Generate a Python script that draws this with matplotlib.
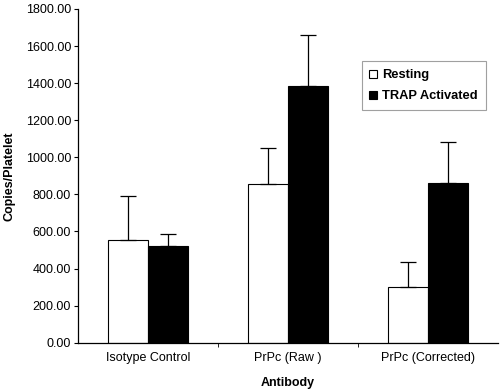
import numpy as np
import matplotlib.pyplot as plt

plt.rcParams['font.family'] = ['Liberation Sans', 'DejaVu Sans']

categories = ["Isotype Control", "PrPc (Raw )", "PrPc (Corrected)"]
resting = [553, 857, 298]
resting_err = [238, 191, 139]
trap = [521, 1384, 862]
trap_err = [65, 278, 221]
yticks = np.arange(0, 1801, 200)

fig = plt.figure(figsize=(5, 3.89), dpi=100)
ax = fig.add_axes([0.156, 0.119, 0.84, 0.858])

x = np.arange(len(categories))
w = 0.286
ax.bar(x - w / 2, resting, w, color="white", edgecolor="black", linewidth=0.8,
       yerr=[np.zeros(3), resting_err], capsize=6,
       error_kw=dict(elinewidth=0.9, capthick=0.9, ecolor="black"), label="Resting")
ax.bar(x + w / 2, trap, w, color="black", edgecolor="black", linewidth=0.8,
       yerr=[np.zeros(3), trap_err], capsize=6,
       error_kw=dict(elinewidth=0.9, capthick=0.9, ecolor="black"), label="TRAP Activated")

ax.set_xlim(-0.5, 2.5)
ax.set_ylim(0, 1800)
ax.set_yticks(yticks)
ax.set_yticklabels([f"{v:.2f}" for v in yticks], fontsize=9)
ax.set_xticks(x)
ax.set_xticklabels(categories, fontsize=9)
ax.tick_params(axis="x", length=0, pad=7)
ax.set_xticks([0.5, 1.5], minor=True)
ax.tick_params(axis="x", which="minor", length=3, direction="out")
ax.tick_params(axis="y", length=3, direction="out", pad=2)

for s in ["top", "right"]:
    ax.spines[s].set_visible(False)
ax.spines["left"].set_linewidth(0.9)
ax.spines["bottom"].set_linewidth(0.9)

ax.set_xlabel("Antibody", fontsize=9, fontweight="bold", labelpad=9)
ax.set_ylabel("Copies/Platelet", fontsize=9, fontweight="bold", labelpad=7)

leg = ax.legend(loc="upper left", bbox_to_anchor=(0.66, 0.862), frameon=True,
                fancybox=False, edgecolor="#888888", prop=dict(weight="bold", size=9.3),
                handlelength=0.6, handleheight=0.6, handletextpad=0.4,
                borderpad=0.6, labelspacing=0.7)
leg.get_frame().set_linewidth(0.8)

fig.savefig("out.png", dpi=100)
